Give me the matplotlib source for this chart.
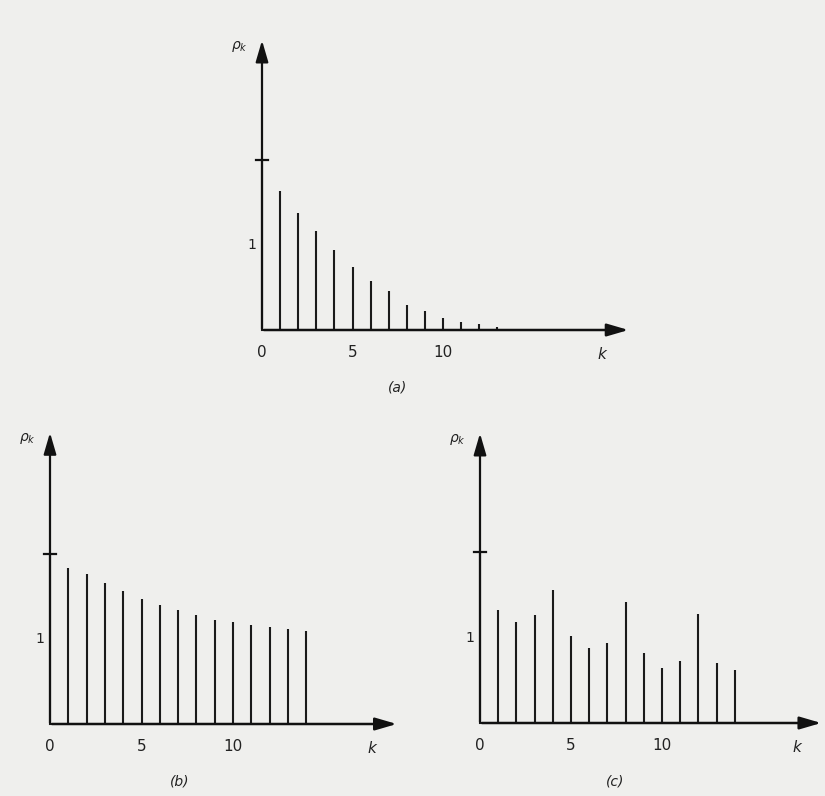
import matplotlib.pyplot as plt

# autocorrelation values
k_a = list(range(14))
rho_a = [1.0, 0.82, 0.69, 0.58, 0.47, 0.37, 0.29, 0.23, 0.15, 0.11, 0.07, 0.045, 0.035, 0.015]

k_b = list(range(15))
rho_b = [1.0, 0.92, 0.88, 0.83, 0.78, 0.735, 0.70, 0.67, 0.64, 0.61, 0.60, 0.58, 0.57, 0.56, 0.545]

k_c = list(range(15))
rho_c = [1.0, 0.66, 0.59, 0.63, 0.78, 0.51, 0.44, 0.47, 0.71, 0.41, 0.32, 0.36, 0.64, 0.35, 0.31]

xticks = [0, 5, 10]
bg = '#efefed'

W, H = 825, 796
fig = plt.figure(figsize=(W / 100, H / 100), dpi=100)
fig.patch.set_facecolor(bg)


def make_axes(ox, oy, ux, uy, xlim, ylim):
    # ox, oy: pixel position of the origin (from top-left); ux, uy: pixels per unit
    left = ox + xlim[0] * ux
    right = ox + xlim[1] * ux
    top = oy - ylim[1] * uy
    bottom = oy - ylim[0] * uy
    ax = fig.add_axes([left / W, (H - bottom) / H, (right - left) / W, (bottom - top) / H])
    ax.set_xlim(xlim)
    ax.set_ylim(ylim)
    ax.axis('off')
    ax.patch.set_alpha(0)
    return ax


def panel(ax, k, rho, xend, yend, klabel_x, tag, tag_x):
    ax.vlines(k[1:], 0, rho[1:], color='#1a1a1a', lw=1.5)
    ax.plot([0, 0], [0, rho[0]], color='#1a1a1a', lw=1.5)
    # axes with arrows
    ax.annotate('', xy=(xend, 0), xytext=(-0.05, 0),
                arrowprops=dict(arrowstyle='-|>,head_length=1.3,head_width=0.38', color='#111111', lw=1.8))
    ax.annotate('', xy=(0, yend), xytext=(0, -0.01),
                arrowprops=dict(arrowstyle='-|>,head_length=1.3,head_width=0.38', color='#111111', lw=1.6))
    # tick mark at 1
    ax.plot([-0.35, 0.35], [1.0, 1.0], color='#111111', lw=1.6)
    ax.text(-0.3, 0.5, '1', ha='right', va='center', fontsize=10, color='#222222')
    for t in xticks:
        ax.text(t, -0.09, str(t), ha='center', va='top', fontsize=11, color='#222222')
    ax.text(klabel_x, -0.1, 'k', ha='center', va='top', fontsize=11, style='italic', color='#222222')
    ax.text(-0.8, yend - 0.05, r'$\rho_k$', ha='right', va='center', fontsize=10, color='#222222')
    ax.text(tag_x, -0.34, '(' + tag + ')', ha='center', va='center', fontsize=10,
            style='italic', color='#222222')


ax_a = make_axes(262, 330, 18.1, 170, (-2.5, 21), (-0.5, 1.85))
panel(ax_a, k_a, rho_a, 20.4, 1.72, 18.8, 'a', 7.5)

ax_b = make_axes(50, 724, 18.3, 170, (-2.5, 20), (-0.5, 1.85))
panel(ax_b, k_b, rho_b, 19.1, 1.73, 17.6, 'b', 7.1)

ax_c = make_axes(480, 723, 18.2, 171, (-2.5, 19.5), (-0.5, 1.85))
panel(ax_c, k_c, rho_c, 18.9, 1.71, 17.4, 'c', 7.4)

fig.savefig('out.png', dpi=100, facecolor=bg)
